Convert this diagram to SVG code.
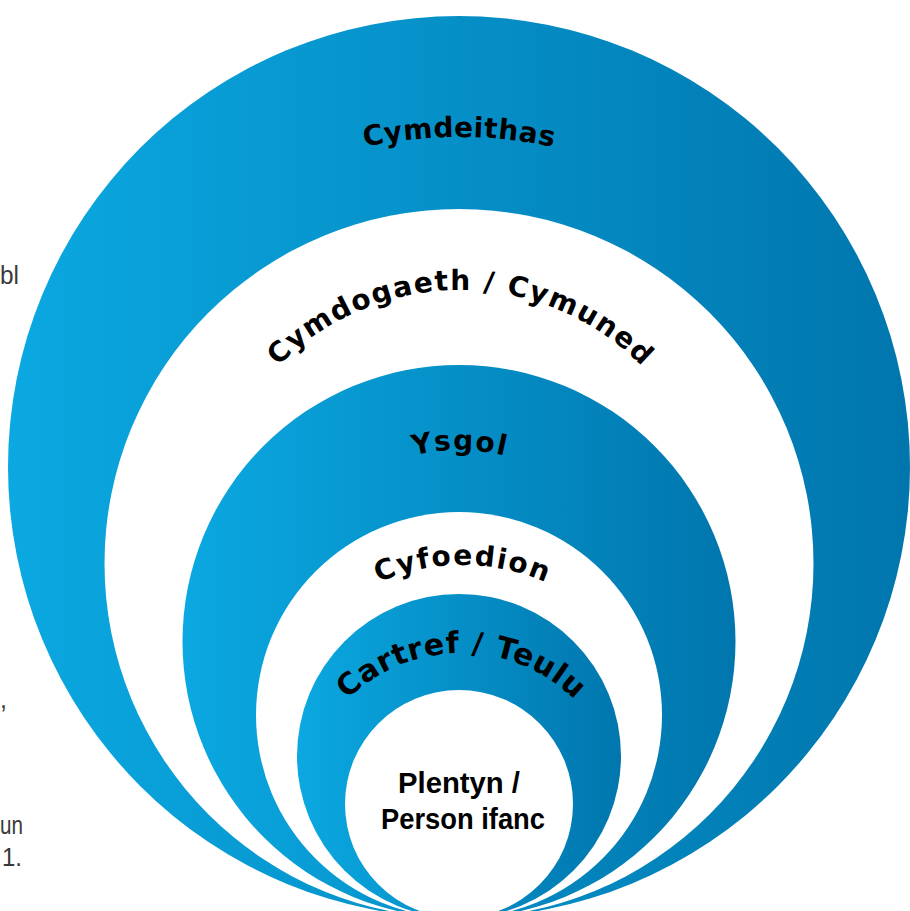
<svg xmlns="http://www.w3.org/2000/svg" width="910" height="911" viewBox="0 0 910 911">
<defs>
<linearGradient id="blue" x1="0" y1="0" x2="1" y2="0">
<stop offset="0" stop-color="#0ba8e1"/>
<stop offset="1" stop-color="#0076ad"/>
</linearGradient>
<path id="p1" d="M 9 587 A 450 450 0 0 1 909 587"/>
<path id="p2" d="M 205 545 A 255 255 0 0 1 715 545"/>
<path id="p3" d="M 268 641 A 191 191 0 0 1 650 641"/>
<path id="p4" d="M 252 775 A 210 210 0 0 1 672 775"/>
<path id="p5" d="M 299 815 A 162 162 0 0 1 623 815"/>
</defs>
<style>
.ring{fill:url(#blue)}
.hole{fill:#ffffff}
.arc{font-family:"DejaVu Sans",Lato,sans-serif;font-weight:700;font-size:28px;fill:#000000}
.core{font-family:"Liberation Sans",Arial,sans-serif;font-weight:700;font-size:30px;fill:#000000;text-anchor:middle}
.side{font-family:"Liberation Sans",Arial,sans-serif;font-size:25px;fill:#3a3a3a}
</style>
<rect width="910" height="911" fill="#ffffff"/>
<g id="side-text">
<text class="side" x="0" y="284" textLength="19" lengthAdjust="spacingAndGlyphs">bl</text>
<text class="side" x="0" y="708">,</text>
<text class="side" x="0" y="834" textLength="23" lengthAdjust="spacingAndGlyphs">un</text>
<text class="side" x="2" y="866" textLength="20" lengthAdjust="spacingAndGlyphs">1.</text>
</g>
<g id="cymdeithas">
<circle class="ring" cx="459" cy="467" r="451"/>
<text class="arc"><textPath href="#p1" startOffset="50%" text-anchor="middle" textLength="190" lengthAdjust="spacing">Cymdeithas</textPath></text>
</g>
<g id="cymdogaeth">
<circle class="hole" cx="459" cy="563.5" r="354.5"/>
<text class="arc"><textPath href="#p2" startOffset="50%" text-anchor="middle" textLength="405" lengthAdjust="spacing">Cymdogaeth / Cymuned</textPath></text>
</g>
<g id="ysgol">
<circle class="ring" cx="459" cy="641.5" r="276.5"/>
<text class="arc"><textPath href="#p3" startOffset="50%" text-anchor="middle" textLength="92" lengthAdjust="spacing">Ysgol</textPath></text>
</g>
<g id="cyfoedion">
<circle class="hole" cx="459" cy="715" r="203"/>
<text class="arc"><textPath href="#p4" startOffset="50%" text-anchor="middle" textLength="172" lengthAdjust="spacing">Cyfoedion</textPath></text>
</g>
<g id="cartref">
<circle class="ring" cx="459" cy="756" r="162"/>
<text class="arc" style="font-size:30px"><textPath href="#p5" startOffset="50%" text-anchor="middle" textLength="252" lengthAdjust="spacing">Cartref / Teulu</textPath></text>
</g>
<g id="plentyn">
<circle class="hole" cx="459" cy="804" r="114"/>
<text class="core" x="459" y="793" textLength="122" lengthAdjust="spacingAndGlyphs">Plentyn /</text>
<text class="core" x="463" y="829" textLength="164" lengthAdjust="spacingAndGlyphs">Person ifanc</text>
</g>
</svg>
